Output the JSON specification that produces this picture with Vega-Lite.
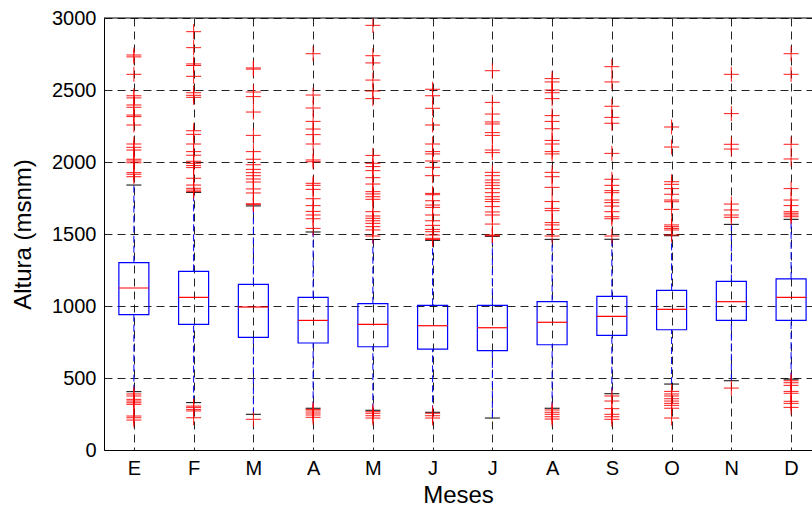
{
  "$schema": "https://vega.github.io/schema/vega-lite/v6.json",
  "autosize": {"type": "none"},
  "padding": {"left": 104, "top": 18, "right": 0, "bottom": 58},
  "width": 708,
  "height": 432,
  "background": "white",
  "config": {
    "view": {"stroke": null},
    "font": "Liberation Sans",
    "axis": {
      "labelFont": "Liberation Sans",
      "titleFont": "Liberation Sans",
      "labelColor": "black",
      "titleColor": "black",
      "titleFontWeight": "normal",
      "labelFontSize": 20,
      "titleFontSize": 24,
      "domainColor": "black",
      "domainWidth": 1,
      "ticks": false,
      "grid": true,
      "gridColor": "black",
      "gridOpacity": 0.85,
      "gridDash": [8, 5],
      "gridWidth": 1
    }
  },
  "datasets": {
    "boxes": [
      {"m": 1, "lo": 405, "q1": 940, "med": 1125, "q3": 1301, "hi": 1840},
      {"m": 2, "lo": 329, "q1": 873, "med": 1060, "q3": 1241, "hi": 1789},
      {"m": 3, "lo": 248, "q1": 782, "med": 993, "q3": 1150, "hi": 1695},
      {"m": 4, "lo": 290, "q1": 743, "med": 900, "q3": 1060, "hi": 1514},
      {"m": 5, "lo": 276, "q1": 717, "med": 873, "q3": 1016, "hi": 1462},
      {"m": 6, "lo": 262, "q1": 701, "med": 863, "q3": 1005, "hi": 1456},
      {"m": 7, "lo": 222, "q1": 690, "med": 849, "q3": 1005, "hi": 1484},
      {"m": 8, "lo": 290, "q1": 731, "med": 887, "q3": 1030, "hi": 1463},
      {"m": 9, "lo": 391, "q1": 796, "med": 928, "q3": 1067, "hi": 1463},
      {"m": 10, "lo": 458, "q1": 835, "med": 977, "q3": 1109, "hi": 1488},
      {"m": 11, "lo": 481, "q1": 900, "med": 1030, "q3": 1171, "hi": 1567},
      {"m": 12, "lo": 492, "q1": 900, "med": 1060, "q3": 1188, "hi": 1602}
    ],
    "outliers": [
      {"m": 1, "v": 2743}, {"m": 1, "v": 2730}, {"m": 1, "v": 2609}, {"m": 1, "v": 2460}, {"m": 1, "v": 2445}, {"m": 1, "v": 2396}, {"m": 1, "v": 2380}, {"m": 1, "v": 2326}, {"m": 1, "v": 2315}, {"m": 1, "v": 2257}, {"m": 1, "v": 2125}, {"m": 1, "v": 2102}, {"m": 1, "v": 2083}, {"m": 1, "v": 2019}, {"m": 1, "v": 2007}, {"m": 1, "v": 1995}, {"m": 1, "v": 1926}, {"m": 1, "v": 1915}, {"m": 1, "v": 1898},
      {"m": 1, "v": 389}, {"m": 1, "v": 375}, {"m": 1, "v": 352}, {"m": 1, "v": 340}, {"m": 1, "v": 328}, {"m": 1, "v": 317}, {"m": 1, "v": 236}, {"m": 1, "v": 224}, {"m": 1, "v": 208},
      {"m": 2, "v": 2905}, {"m": 2, "v": 2794}, {"m": 2, "v": 2681}, {"m": 2, "v": 2670}, {"m": 2, "v": 2595}, {"m": 2, "v": 2481}, {"m": 2, "v": 2463}, {"m": 2, "v": 2449}, {"m": 2, "v": 2217}, {"m": 2, "v": 2192}, {"m": 2, "v": 2125}, {"m": 2, "v": 2072}, {"m": 2, "v": 2047}, {"m": 2, "v": 2005}, {"m": 2, "v": 1991}, {"m": 2, "v": 1975}, {"m": 2, "v": 1961}, {"m": 2, "v": 1887}, {"m": 2, "v": 1840}, {"m": 2, "v": 1817}, {"m": 2, "v": 1805}, {"m": 2, "v": 1794},
      {"m": 2, "v": 305}, {"m": 2, "v": 296}, {"m": 2, "v": 282}, {"m": 2, "v": 271}, {"m": 2, "v": 224},
      {"m": 3, "v": 2653}, {"m": 3, "v": 2645}, {"m": 3, "v": 2486}, {"m": 3, "v": 2454}, {"m": 3, "v": 2347}, {"m": 3, "v": 2185}, {"m": 3, "v": 2072}, {"m": 3, "v": 2019}, {"m": 3, "v": 1981}, {"m": 3, "v": 1949}, {"m": 3, "v": 1926}, {"m": 3, "v": 1905}, {"m": 3, "v": 1882}, {"m": 3, "v": 1861}, {"m": 3, "v": 1813}, {"m": 3, "v": 1785}, {"m": 3, "v": 1710}, {"m": 3, "v": 1704},
      {"m": 3, "v": 213},
      {"m": 4, "v": 2752}, {"m": 4, "v": 2465}, {"m": 4, "v": 2375}, {"m": 4, "v": 2282}, {"m": 4, "v": 2229}, {"m": 4, "v": 2190}, {"m": 4, "v": 2125}, {"m": 4, "v": 2014}, {"m": 4, "v": 2002}, {"m": 4, "v": 1852}, {"m": 4, "v": 1838}, {"m": 4, "v": 1810}, {"m": 4, "v": 1745}, {"m": 4, "v": 1697}, {"m": 4, "v": 1657}, {"m": 4, "v": 1632}, {"m": 4, "v": 1606}, {"m": 4, "v": 1539},
      {"m": 4, "v": 282}, {"m": 4, "v": 271}, {"m": 4, "v": 257}, {"m": 4, "v": 243}, {"m": 4, "v": 227},
      {"m": 5, "v": 2949}, {"m": 5, "v": 2738}, {"m": 5, "v": 2688}, {"m": 5, "v": 2569}, {"m": 5, "v": 2493}, {"m": 5, "v": 2440}, {"m": 5, "v": 2046}, {"m": 5, "v": 1991}, {"m": 5, "v": 1968}, {"m": 5, "v": 1940}, {"m": 5, "v": 1891}, {"m": 5, "v": 1847}, {"m": 5, "v": 1794}, {"m": 5, "v": 1778}, {"m": 5, "v": 1759}, {"m": 5, "v": 1741}, {"m": 5, "v": 1655}, {"m": 5, "v": 1625}, {"m": 5, "v": 1609}, {"m": 5, "v": 1592}, {"m": 5, "v": 1574}, {"m": 5, "v": 1551}, {"m": 5, "v": 1528}, {"m": 5, "v": 1486},
      {"m": 5, "v": 266}, {"m": 5, "v": 255}, {"m": 5, "v": 238}, {"m": 5, "v": 222},
      {"m": 6, "v": 2505}, {"m": 6, "v": 2460}, {"m": 6, "v": 2373}, {"m": 6, "v": 2257}, {"m": 6, "v": 2125}, {"m": 6, "v": 2072}, {"m": 6, "v": 2056}, {"m": 6, "v": 2007}, {"m": 6, "v": 1963}, {"m": 6, "v": 1905}, {"m": 6, "v": 1782}, {"m": 6, "v": 1773}, {"m": 6, "v": 1731}, {"m": 6, "v": 1701}, {"m": 6, "v": 1685}, {"m": 6, "v": 1632}, {"m": 6, "v": 1592}, {"m": 6, "v": 1560}, {"m": 6, "v": 1532}, {"m": 6, "v": 1516}, {"m": 6, "v": 1493}, {"m": 6, "v": 1470}, {"m": 6, "v": 1462},
      {"m": 6, "v": 255}, {"m": 6, "v": 238}, {"m": 6, "v": 222},
      {"m": 7, "v": 2634}, {"m": 7, "v": 2414}, {"m": 7, "v": 2333}, {"m": 7, "v": 2278}, {"m": 7, "v": 2264}, {"m": 7, "v": 2204}, {"m": 7, "v": 2185}, {"m": 7, "v": 2083}, {"m": 7, "v": 2065}, {"m": 7, "v": 1928}, {"m": 7, "v": 1905}, {"m": 7, "v": 1875}, {"m": 7, "v": 1856}, {"m": 7, "v": 1838}, {"m": 7, "v": 1815}, {"m": 7, "v": 1787}, {"m": 7, "v": 1759}, {"m": 7, "v": 1741}, {"m": 7, "v": 1725}, {"m": 7, "v": 1690}, {"m": 7, "v": 1653}, {"m": 7, "v": 1632}, {"m": 7, "v": 1569}, {"m": 7, "v": 1493}, {"m": 7, "v": 1488},
      {"m": 8, "v": 2579}, {"m": 8, "v": 2556}, {"m": 8, "v": 2500}, {"m": 8, "v": 2481}, {"m": 8, "v": 2440}, {"m": 8, "v": 2322}, {"m": 8, "v": 2282}, {"m": 8, "v": 2231}, {"m": 8, "v": 2150}, {"m": 8, "v": 2125}, {"m": 8, "v": 2072}, {"m": 8, "v": 2056}, {"m": 8, "v": 1928}, {"m": 8, "v": 1898}, {"m": 8, "v": 1824}, {"m": 8, "v": 1725}, {"m": 8, "v": 1678}, {"m": 8, "v": 1662}, {"m": 8, "v": 1579}, {"m": 8, "v": 1563}, {"m": 8, "v": 1532}, {"m": 8, "v": 1486},
      {"m": 8, "v": 278}, {"m": 8, "v": 262}, {"m": 8, "v": 248}, {"m": 8, "v": 231}, {"m": 8, "v": 215},
      {"m": 9, "v": 2662}, {"m": 9, "v": 2556}, {"m": 9, "v": 2387}, {"m": 9, "v": 2310}, {"m": 9, "v": 2269}, {"m": 9, "v": 2060}, {"m": 9, "v": 1880}, {"m": 9, "v": 1838}, {"m": 9, "v": 1801}, {"m": 9, "v": 1787}, {"m": 9, "v": 1736}, {"m": 9, "v": 1718}, {"m": 9, "v": 1694}, {"m": 9, "v": 1655}, {"m": 9, "v": 1620}, {"m": 9, "v": 1606}, {"m": 9, "v": 1486},
      {"m": 9, "v": 375}, {"m": 9, "v": 340}, {"m": 9, "v": 287}, {"m": 9, "v": 248}, {"m": 9, "v": 231}, {"m": 9, "v": 213},
      {"m": 10, "v": 2243}, {"m": 10, "v": 2104}, {"m": 10, "v": 1863}, {"m": 10, "v": 1845}, {"m": 10, "v": 1815}, {"m": 10, "v": 1776}, {"m": 10, "v": 1736}, {"m": 10, "v": 1724}, {"m": 10, "v": 1671}, {"m": 10, "v": 1563}, {"m": 10, "v": 1551}, {"m": 10, "v": 1539}, {"m": 10, "v": 1528}, {"m": 10, "v": 1493},
      {"m": 10, "v": 407}, {"m": 10, "v": 389}, {"m": 10, "v": 375}, {"m": 10, "v": 356}, {"m": 10, "v": 340}, {"m": 10, "v": 324}, {"m": 10, "v": 310}, {"m": 10, "v": 290}, {"m": 10, "v": 222},
      {"m": 11, "v": 2609}, {"m": 11, "v": 2336}, {"m": 11, "v": 2123}, {"m": 11, "v": 2090}, {"m": 11, "v": 1708}, {"m": 11, "v": 1667}, {"m": 11, "v": 1632}, {"m": 11, "v": 1616},
      {"m": 11, "v": 430},
      {"m": 12, "v": 2752}, {"m": 12, "v": 2609}, {"m": 12, "v": 2123}, {"m": 12, "v": 2021}, {"m": 12, "v": 1815}, {"m": 12, "v": 1736}, {"m": 12, "v": 1697}, {"m": 12, "v": 1655}, {"m": 12, "v": 1644}, {"m": 12, "v": 1632}, {"m": 12, "v": 1620},
      {"m": 12, "v": 481}, {"m": 12, "v": 467}, {"m": 12, "v": 449}, {"m": 12, "v": 407}, {"m": 12, "v": 394}, {"m": 12, "v": 338}, {"m": 12, "v": 324}, {"m": 12, "v": 296}
    ]
  },
  "layer": [
    {
      "data": {"name": "boxes"},
      "mark": {"type": "rule", "color": "#0000FF", "strokeWidth": 1, "strokeDash": [7, 3]},
      "encoding": {
        "x": {
          "field": "m", "type": "quantitative",
          "scale": {"domain": [0.5, 12.35], "nice": false, "zero": false, "padding": 0},
          "axis": {
            "values": [1, 2, 3, 4, 5, 6, 7, 8, 9, 10, 11, 12],
            "labelExpr": "['E','F','M','A','M','J','J','A','S','O','N','D'][datum.value - 1]",
            "title": "Meses",
            "labelPadding": 8,
            "titlePadding": 5,
            "labelFlush": false
          }
        },
        "y": {
          "field": "q3", "type": "quantitative",
          "scale": {"domain": [0, 3000], "nice": false, "padding": 0},
          "axis": {
            "values": [0, 500, 1000, 1500, 2000, 2500, 3000],
            "format": "d",
            "title": "Altura (msnm)",
            "labelPadding": 8,
            "titlePadding": 16,
            "labelFlush": false
          }
        },
        "y2": {"field": "hi"}
      }
    },
    {
      "data": {"name": "boxes"},
      "mark": {"type": "rule", "color": "#0000FF", "strokeWidth": 1, "strokeDash": [7, 3]},
      "encoding": {
        "x": {"field": "m", "type": "quantitative"},
        "y": {"field": "lo", "type": "quantitative"},
        "y2": {"field": "q1"}
      }
    },
    {
      "data": {"name": "boxes"},
      "mark": {"type": "bar", "size": 30, "fill": "transparent", "stroke": "#0000FF", "strokeWidth": 1.2},
      "encoding": {
        "x": {"field": "m", "type": "quantitative"},
        "y": {"field": "q1", "type": "quantitative"},
        "y2": {"field": "q3"}
      }
    },
    {
      "data": {"name": "boxes"},
      "mark": {"type": "tick", "orient": "horizontal", "size": 30, "thickness": 1.2, "color": "#FF0000", "opacity": 1},
      "encoding": {
        "x": {"field": "m", "type": "quantitative"},
        "y": {"field": "med", "type": "quantitative"}
      }
    },
    {
      "data": {"name": "boxes"},
      "mark": {"type": "tick", "orient": "horizontal", "size": 15, "thickness": 1, "color": "black", "opacity": 1},
      "encoding": {
        "x": {"field": "m", "type": "quantitative"},
        "y": {"field": "hi", "type": "quantitative"}
      }
    },
    {
      "data": {"name": "boxes"},
      "mark": {"type": "tick", "orient": "horizontal", "size": 15, "thickness": 1, "color": "black", "opacity": 1},
      "encoding": {
        "x": {"field": "m", "type": "quantitative"},
        "y": {"field": "lo", "type": "quantitative"}
      }
    },
    {
      "data": {"name": "outliers"},
      "mark": {"type": "point", "shape": "M-1,0L1,0M0,-1L0,1", "size": 225, "filled": false, "stroke": "#FF0000", "strokeWidth": 1, "opacity": 0.9},
      "encoding": {
        "x": {"field": "m", "type": "quantitative"},
        "y": {"field": "v", "type": "quantitative"}
      }
    },
    {
      "data": {"values": [{}]},
      "mark": {"type": "rule", "color": "black", "strokeWidth": 1},
      "encoding": {"y": {"datum": 3000}}
    }
  ]
}
